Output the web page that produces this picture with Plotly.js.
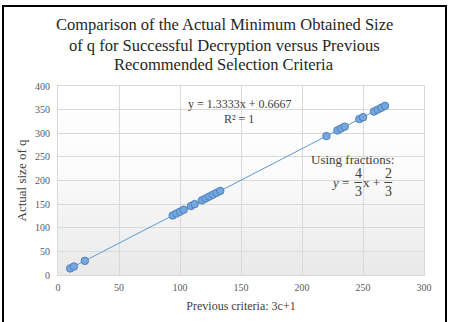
<!DOCTYPE html>
<html>
<head>
<meta charset="utf-8">
<script src="https://cdn.plot.ly/plotly-3.0.1.min.js"></script>
<style>
  html, body { margin: 0; padding: 0; background: #ffffff; }
  #wrap { position: relative; width: 449px; height: 322px; overflow: hidden; }
  #chart { position: absolute; left: 0; top: 0; width: 449px; height: 322px; }
  #frame { position: absolute; left: 2px; top: 5px; width: 441px; height: 330px;
           border-left: 2px solid #000; border-top: 2px solid #000; border-right: 2px solid #000;
           pointer-events: none; }
</style>
</head>
<body>
<div id="wrap">
  <div id="chart"></div>
  <div id="frame"></div>
</div>
<script>
// Previous criteria (3c+1) values and actual minimum size of q
const prevCriteria = [10, 13, 22,
  94, 97, 100, 103, 109, 112, 118, 121, 124, 127, 130, 133,
  220, 229, 232, 235, 247, 250, 259, 262, 265, 268];
const actualQ = [14, 18, 30,
  126, 130, 134, 138, 146, 150, 158, 162, 166, 170, 174, 178,
  294, 306, 310, 314, 330, 334, 346, 350, 354, 358];

const titleLines = ["Comparison of the Actual Minimum Obtained Size",
  "of q for Successful Decryption versus Previous",
  "Recommended Selection Criteria"];
const xTitle = "Previous criteria: 3c+1";
const yTitle = "Actual size of q";
const trendText = "y = 1.3333x + 0.6667";
const r2Text = "R² = 1";

const serif = "Liberation Serif, Times New Roman, serif";
const textCol = "#404040";

const trace = {
  x: prevCriteria, y: actualQ, type: "scatter", mode: "lines+markers",
  line: { color: "#5b9bd5", width: 1 },
  marker: { size: 7.5, color: "#74a7dd", line: { color: "#4f81bd", width: 1 } },
  hoverinfo: "skip"
};

const gradSvg = "data:image/svg+xml;utf8," + encodeURIComponent(
  '<svg xmlns="http://www.w3.org/2000/svg" width="10" height="100" preserveAspectRatio="none">' +
  '<defs><linearGradient id="g" x1="0" y1="0" x2="0" y2="1">' +
  '<stop offset="0" stop-color="#ffffff"/><stop offset="0.45" stop-color="#fbfbfb"/><stop offset="1" stop-color="#e9e9e9"/>' +
  '</linearGradient></defs><rect width="10" height="100" fill="url(#g)"/></svg>');

const annFont = { family: serif, size: 12, color: textCol };
const fracFont = { family: serif, size: 13, color: textCol };
const titleFont = { family: serif, size: 16.5, color: "#262626" };

const titleY = [1.3228, 1.2169, 1.1164];
const titleAnns = titleLines.map((t, i) => ({
  xref: "paper", yref: "paper", x: 0.4536, y: titleY[i], xanchor: "center", yanchor: "middle",
  text: t, showarrow: false, font: titleFont
}));

const layout = {
  width: 449, height: 322,
  margin: { l: 58, r: 25, t: 86, b: 47 },
  paper_bgcolor: "rgba(0,0,0,0)",
  plot_bgcolor: "rgba(0,0,0,0)",
  showlegend: false,
  xaxis: {
    range: [0, 300], dtick: 50, tick0: 0,
    showgrid: true, gridcolor: "#d9d9d9", gridwidth: 1,
    zeroline: false, showline: true, linecolor: "#d9d9d9", mirror: true,
    ticks: "", ticklen: 0, ticklabelstandoff: 3,
    tickfont: { family: serif, size: 10, color: "#595959" },
    title: { text: xTitle, font: { family: serif, size: 12, color: textCol }, standoff: 9 }
  },
  yaxis: {
    range: [0, 400], dtick: 50, tick0: 0,
    showgrid: true, gridcolor: "#d9d9d9", gridwidth: 1,
    zeroline: false, showline: true, linecolor: "#d9d9d9", mirror: true,
    ticks: "", ticklen: 0, ticklabelstandoff: 5,
    tickfont: { family: serif, size: 10, color: "#595959" },
    title: { text: yTitle, font: { family: serif, size: 13, color: textCol }, standoff: 5 }
  },
  images: [{
    source: gradSvg, xref: "paper", yref: "paper", x: 0, y: 1, sizex: 1, sizey: 1,
    sizing: "stretch", xanchor: "left", yanchor: "top", layer: "below"
  }],
  annotations: titleAnns.concat([
    { xref: "x", yref: "y", x: 148.8, y: 362, text: trendText, showarrow: false, font: annFont },
    { xref: "x", yref: "y", x: 148, y: 330, text: r2Text, showarrow: false, font: annFont },
    { xref: "x", yref: "y", x: 241.4, y: 245, text: "Using fractions:", showarrow: false, font: fracFont },
    { xref: "x", yref: "y", x: 231.2, y: 196.5, text: "<i>y</i> =", showarrow: false, font: fracFont },
    { xref: "x", yref: "y", x: 246, y: 196, text: "4<br>3", showarrow: false, font: { family: serif, size: 14, color: textCol } },
    { xref: "x", yref: "y", x: 257, y: 196.5, text: "x +", showarrow: false, font: fracFont },
    { xref: "x", yref: "y", x: 270.6, y: 196, text: "2<br>3", showarrow: false, font: { family: serif, size: 14, color: textCol } }
  ]),
  shapes: [
    { type: "line", xref: "x", yref: "y", x0: 242.9, x1: 249.2, y0: 195.8, y1: 195.8, line: { color: textCol, width: 1 } },
    { type: "line", xref: "x", yref: "y", x0: 267.4, x1: 273.9, y0: 195.8, y1: 195.8, line: { color: textCol, width: 1 } }
  ]
};

Plotly.newPlot("chart", [trace], layout, { staticPlot: true, displayModeBar: false });
</script>
</body>
</html>
